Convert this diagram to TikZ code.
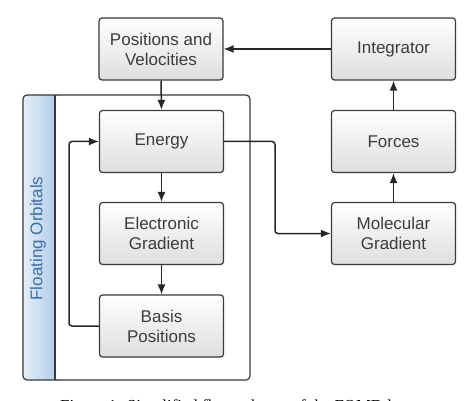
\documentclass[tikz,border=0pt]{standalone}
\usepackage{fontspec}
\setmainfont{Liberation Sans}
\newfontfamily\capfont{Liberation Serif}
\usetikzlibrary{arrows.meta}
\definecolor{boxline}{HTML}{3A3A3A}
\definecolor{boxtext}{HTML}{3C3C3C}
\definecolor{stripblue}{HTML}{A9C6E4}
\definecolor{stripleft}{HTML}{E4EEF8}
\definecolor{fotext}{HTML}{3D6FA8}
\begin{document}
\begin{tikzpicture}[x=1pt,y=-1pt,
  box/.style={draw=boxline, line width=1.2pt, rounded corners=3pt,
    top color=white, bottom color=black!13,
    minimum width=124pt, minimum height=62pt, inner sep=0pt,
    align=center, font=\fontsize{17}{20}\selectfont, text=boxtext},
  arr/.style={-{Latex[length=10pt,width=8pt]}, line width=1.5pt, draw=black!85},
  frameline/.style={draw=boxline, line width=1.2pt}]
\useasboundingbox (0,0) rectangle (474,401);
\fill[white] (0,0) rectangle (474,401);

% container with side strip
\path[rounded corners=4pt, left color=stripleft, right color=stripblue]
  (23,95) rectangle (62,380);
\fill[white] (55,95.6) rectangle (70,379.4);
\draw[frameline, rounded corners=4pt] (23,95) rectangle (250,380);
\draw[frameline] (55,95) -- (55,380);
\node[rotate=90, font=\fontsize{17}{17}\selectfont, text=fotext] (fo) at (38,238.5) {Floating Orbitals};

% boxes
\node[box] (pv)  at (161,49)    {Positions and\\Velocities};
\node[box] (int) at (393.5,49)  {Integrator};
\node[box] (en)  at (161.5,141.5) {Energy};
\node[box] (frc) at (393.5,141.5) {Forces};
\node[box] (eg)  at (161.5,233.5) {Electronic\\Gradient};
\node[box] (mg)  at (393.5,233.5) {Molecular\\Gradient};
\node[box] (bp)  at (161.5,326)   {Basis\\Positions};

\coordinate (loopx) at (69,0);
\coordinate (jogx) at (275,0);

% connectors
\draw[arr] (int.west) -- (pv.east);
\draw[arr] (pv.south) -- (en.north);
\draw[arr] (en.south) -- (eg.north);
\draw[arr] (eg.south) -- (bp.north);
\draw[arr] (mg.north) -- (frc.south);
\draw[arr] (frc.north) -- (int.south);
\draw[arr, rounded corners=3pt] (bp.west) -- (bp.west -| loopx) |- (en.west);
\draw[arr, rounded corners=3pt] (en.east) -- (en.east -| jogx) |- (mg.west);

% caption (cut off at the bottom edge, as in the reference)
\node[anchor=base west, inner sep=0pt, font=\capfont\fontsize{16.8}{17}\selectfont] (cap) at (60,411.5) {Figure 1: Simplified flow scheme of the FOMD la};
\end{tikzpicture}
\end{document}
